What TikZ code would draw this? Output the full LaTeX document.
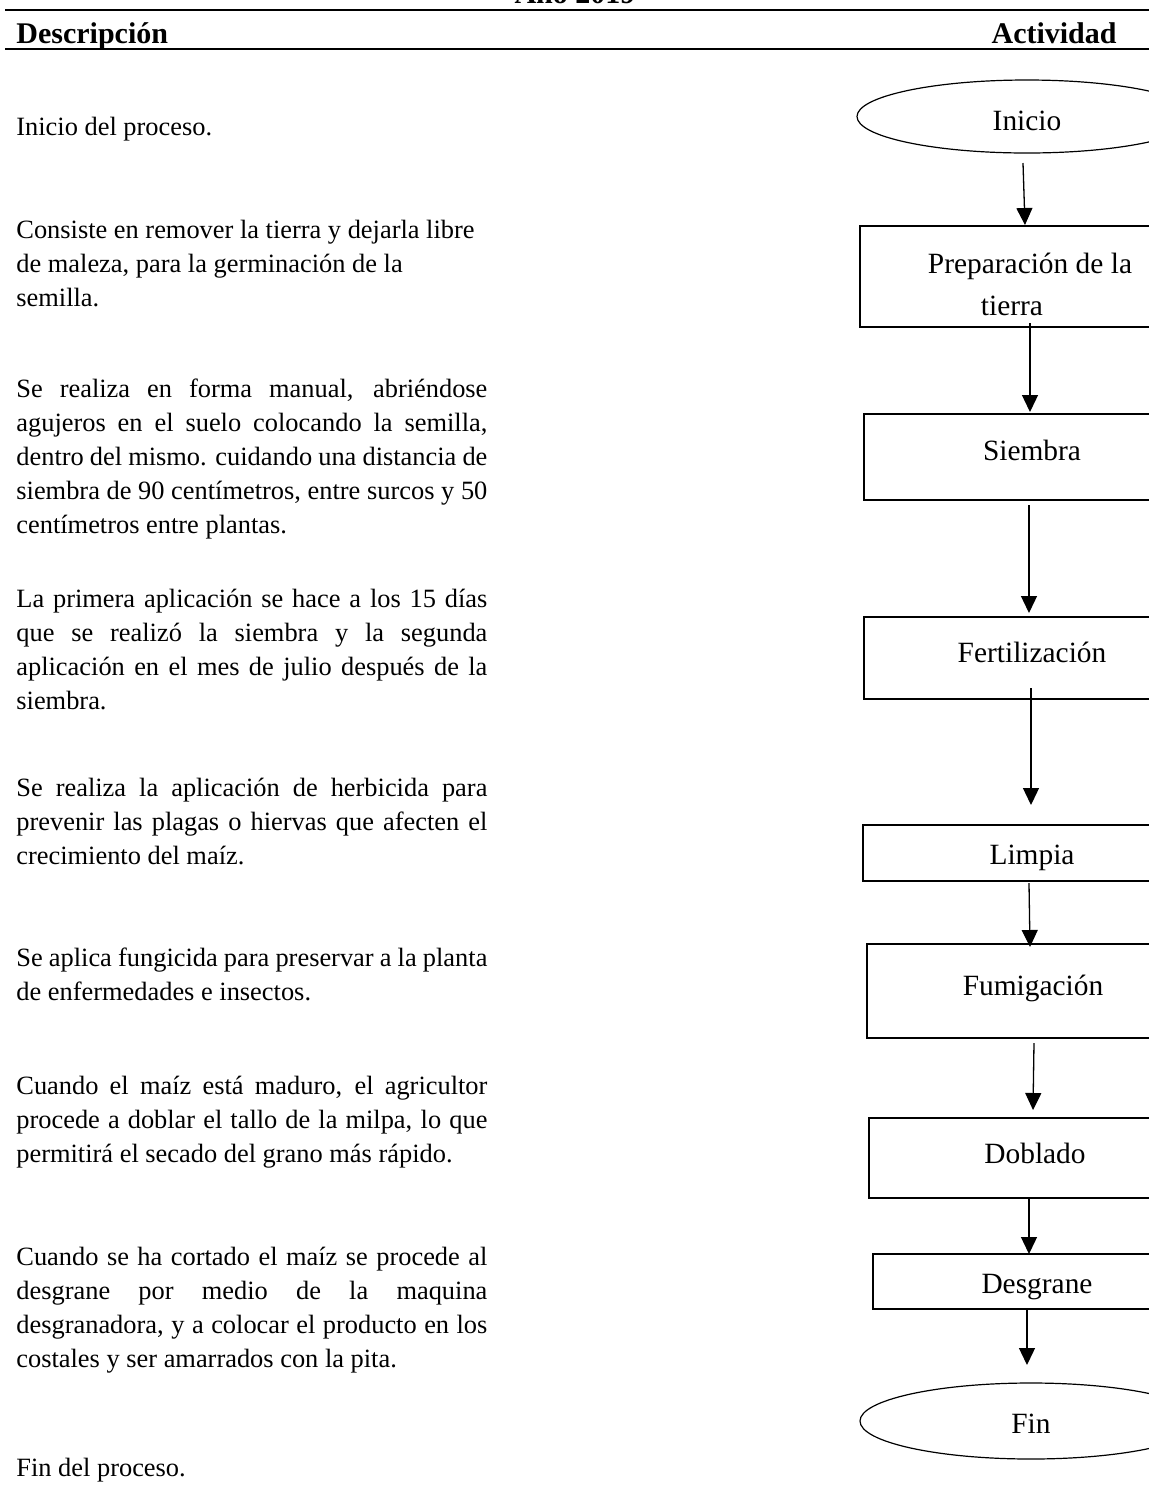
\documentclass[tikz,border=0pt]{standalone}
\usepackage{fontspec}
\setmainfont{Liberation Serif}
\usetikzlibrary{arrows.meta,shapes.geometric,calc}
\newlength\jwidth
\setlength\jwidth{235.5pt}
\newcommand\jline[1]{\leavevmode\hbox to \jwidth{\spaceskip=0pt\xspaceskip=0pt #1}}
\begin{document}
\begin{tikzpicture}[x=0.5pt,y=-0.5pt,
  box/.style={draw, rectangle, line width=0.65pt, inner sep=0pt, outer sep=0pt},
  oval/.style={draw, ellipse, line width=0.6pt, inner sep=0pt, outer sep=0pt},
  lbl/.style={anchor=base, inner sep=0pt, font=\fontsize{14.7}{17}\selectfont},
  desc/.style={anchor=base west, inner sep=0pt, text width=260pt, align=justify, font=\fontsize{13.2}{17.1}\selectfont},
  flow/.style={-{Triangle[width=8pt,length=8.5pt]}, line width=0.65pt},
  hdr/.style={anchor=base, inner sep=0pt, font=\bfseries\fontsize{15}{17}\selectfont},
  headline/.style={line width=1pt}]
\useasboundingbox (0,0) rectangle (1149,1485);
\clip (0,0) rectangle (1149,1485);
\fill[white] (0,0) rectangle (1149,1485);

% header
\node[hdr] (year) at (575,3) {Año 2019};
\coordinate (hl1a) at (5,10);
\coordinate (hl1b) at (1149,10);
\coordinate (hl2a) at (5,49);
\coordinate (hl2b) at (1149,49);
\draw[headline] (hl1a) -- (hl1b);
\draw[headline] (hl2a) -- (hl2b);
\node[hdr, anchor=base west] (hdesc) at (16,43) {Descripción};
\node[hdr, anchor=base east] (hact) at (1117,43) {Actividad};

% descriptions
\node[desc] (d1) at (16,135) {Inicio del proceso.};
\node[desc] (d2) at (16,238) {Consiste en remover la tierra y dejarla libre\\ de maleza, para la germinación de la\\ semilla.};
\node[desc] (d3) at (16,397) {\jline{Se realiza en forma manual, abriéndose}\\ \jline{agujeros en el suelo colocando la semilla,}\\ \jline{dentro del mismo. cuidando una distancia de}\\ \jline{siembra de 90 centímetros, entre surcos y 50}\\ centímetros entre plantas.};
\node[desc] (d4) at (16,607) {\jline{La primera aplicación se hace a los 15 días}\\ \jline{que se realizó la siembra y la segunda}\\ \jline{aplicación en el mes de julio después de la}\\ siembra.};
\node[desc] (d5) at (16,796) {\jline{Se realiza la aplicación de herbicida para}\\ \jline{prevenir las plagas o hiervas que afecten el}\\ crecimiento del maíz.};
\node[desc] (d6) at (16,966) {\jline{Se aplica fungicida para preservar a la planta}\\ de enfermedades e insectos.};
\node[desc] (d7) at (16,1094) {\jline{Cuando el maíz está maduro, el agricultor}\\ \jline{procede a doblar el tallo de la milpa, lo que}\\ permitirá el secado del grano más rápido.};
\node[desc] (d8) at (16,1265) {\jline{Cuando se ha cortado el maíz se procede al}\\ \jline{desgrane por medio de la maquina}\\ \jline{desgranadora, y a colocar el producto en los}\\ costales y ser amarrados con la pita.};
\node[desc] (d9) at (16,1476) {Fin del proceso.};

% flowchart shapes
\node[oval, minimum width=170pt, minimum height=36.5pt] (inicio) at (1027,116.5) {};
\node[lbl] (tinicio) at (1027,130) {Inicio};

\node[box, minimum width=170pt, minimum height=50.5pt] (prep) at (1030,276.5) {};
\node[lbl] (tprep1) at (1030,273) {Preparación de la};
\node[lbl] (tprep2) at (1012,315) {tierra};

\node[box, minimum width=168pt, minimum height=43pt] (siembra) at (1032,457) {};
\node[lbl] (tsiembra) at (1032,460) {Siembra};

\node[box, minimum width=168pt, minimum height=41pt] (fert) at (1032,658) {};
\node[lbl] (tfert) at (1032,662) {Fertilización};

\node[box, minimum width=169pt, minimum height=28pt] (limpia) at (1032,853) {};
\node[lbl] (tlimpia) at (1032,864) {Limpia};

\node[box, minimum width=166pt, minimum height=47pt] (fumig) at (1033,991) {};
\node[lbl] (tfumig) at (1033,995) {Fumigación};

\node[box, minimum width=166pt, minimum height=40pt] (doblado) at (1035,1158) {};
\node[lbl] (tdoblado) at (1035,1163) {Doblado};

\node[box, minimum width=164pt, minimum height=27.5pt] (desgrane) at (1037,1281.5) {};
\node[lbl] (tdesgrane) at (1037,1293) {Desgrane};

\node[oval, minimum width=171pt, minimum height=38pt] (fin) at (1031,1421) {};
\node[lbl] (tfin) at (1031,1433) {Fin};

% connectors
\draw[flow] ($(inicio.south)+(-4,10)$) -- ($(prep.north)+(-5,-1)$);
\draw[flow] ($(prep.south)+(0,-4)$) -- ($(siembra.north)+(-2,-2)$);
\draw[flow] ($(siembra.south)+(-3,5)$) -- ($(fert.north)+(-3,-4)$);
\draw[flow] ($(fert.south)+(-1,-11)$) -- ($(limpia.north)+(-1,-20)$);
\draw[flow] ($(limpia.south)+(-3,2)$) -- ($(fumig.north)+(-3,3)$);
\draw[flow] ($(fumig.south)+(1,5)$) -- ($(doblado.north)+(-2,-8)$);
\draw[flow] ($(doblado.south)+(-6,0)$) -- ($(desgrane.north)+(-8,0)$);
\draw[flow] ($(desgrane.south)+(-10,0)$) -- ($(fin.north)+(-4,-18)$);
\end{tikzpicture}
\end{document}
